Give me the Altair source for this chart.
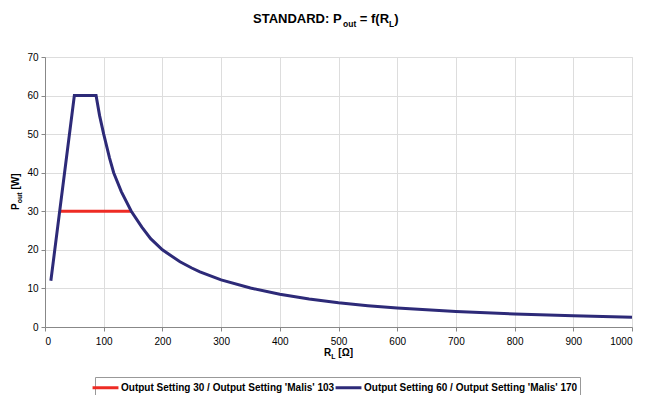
import altair as alt
import pandas as pd

# Series values
r_red = [25, 147]
p_red = [30, 30]

r_blue = [10, 50, 87, 93, 100, 110, 117, 130, 147, 165, 180, 200, 230, 250, 264, 300, 350,
          400, 450, 500, 550, 600, 700, 800, 900, 1000]
p_blue = [12, 60, 60, 54.8, 50, 43.8, 40, 35.1, 30, 25.9, 22.9, 20, 16.9, 15.3, 14.3, 12.2, 10.1,
          8.5, 7.27, 6.3, 5.53, 4.92, 4.0, 3.38, 2.89, 2.5]

series_names = ["Output Setting 30 / Output Setting 'Malis' 103",
                "Output Setting 60 / Output Setting 'Malis' 170"]
series_colors = ["#ee2b24", "#2d2a78"]

x_ticks = list(range(0, 1001, 100))
y_ticks = list(range(0, 71, 10))

df = pd.concat([
    pd.DataFrame({"R": r_red, "P": p_red, "series": series_names[0], "k": 0}),
    pd.DataFrame({"R": r_blue, "P": p_blue, "series": series_names[1], "k": 1}),
], ignore_index=True)

FONT = "Liberation Sans"

lines = alt.Chart(df).mark_line(strokeWidth=3, strokeJoin="miter").encode(
    x=alt.X("R:Q", scale=alt.Scale(domain=[0, 1000], nice=False),
            axis=alt.Axis(values=x_ticks, format="d", title=None, tickSize=4, labelPadding=5)),
    y=alt.Y("P:Q", scale=alt.Scale(domain=[0, 70], nice=False),
            axis=alt.Axis(values=y_ticks, format="d", title=None, tickSize=4, labelPadding=3)),
    color=alt.Color("series:N", scale=alt.Scale(domain=series_names, range=series_colors),
                    legend=alt.Legend(orient="none", legendX=50, legendY=320,
                                      direction="horizontal", title=None,
                                      symbolType="M-1.85,0H1.85", symbolStrokeWidth=3,
                                      symbolSize=196, labelLimit=0,
                                      labelFont=FONT, labelFontWeight="bold",
                                      labelFontSize=10, labelColor="#000",
                                      labelOffset=7, columnPadding=-6,
                                      strokeColor="#999", padding=2)),
    order=alt.Order("k:Q"),
    detail="series:N",
)


def txt(s, x, y, size, angle=0):
    return alt.Chart(pd.DataFrame({"t": [s]})).mark_text(
        text=s, align="left", baseline="alphabetic", font=FONT, fontWeight="bold",
        fontSize=size, angle=angle, color="#000"
    ).encode(x=alt.value(x), y=alt.value(y))


# Title: STANDARD: P_out = f(R_L)
title_parts = [
    txt("STANDARD: P", 208, -34, 13),
    txt("out", 298, -30, 8.5),
    txt("= f(R", 314.8, -34, 13),
    txt("L", 344.1, -30, 8.5),
    txt(")", 349.3, -34, 13),
]
# X axis title: R_L [Ω]
xt_parts = [
    txt("R", 279, 299, 10),
    txt("L", 286.2, 302, 7),
    txt("[Ω]", 293.3, 299, 10),
]
# Y axis title: P_out [W]
yt_parts = [
    txt("P", -26, 153, 10, 270),
    txt("out", -23, 146.3, 7, 270),
    txt("[W]", -26, 132.6, 10, 270),
]

chart = alt.layer(lines, *title_parts, *xt_parts, *yt_parts).properties(
    width=587, height=270,
    padding={"left": 37, "top": 49, "right": 6, "bottom": 68},
    autosize=alt.AutoSizeParams(type="none"),
).configure_view(strokeWidth=0).configure_axis(
    grid=True, gridColor="#9a9a9a", gridWidth=1,
    domainColor="#666", domainWidth=1.5,
    tickColor="#666", tickWidth=1,
    labelFont=FONT, labelFontWeight="bold", labelFontSize=9, labelColor="#222",
).configure(background="white")

chart.save("out.html", embed_options={"renderer": "svg", "actions": False})
